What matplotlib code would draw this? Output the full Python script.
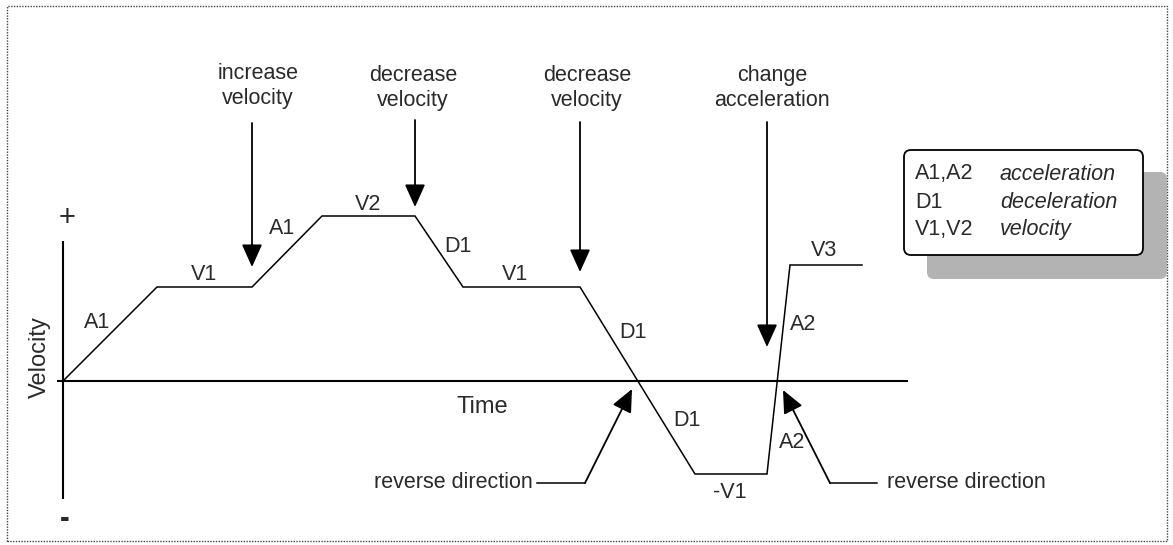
import matplotlib
matplotlib.use("Agg")
import matplotlib.pyplot as plt
from matplotlib.patches import FancyBboxPatch, Rectangle

plt.rcParams['font.family'] = ['Liberation Sans', 'DejaVu Sans']

# velocity profile (time, velocity), origin at the axes crossing
prof_t = [0, 94, 189, 259, 352, 400, 517, 632, 704, 727, 799]
prof_v = [0, 94, 94, 165, 165, 94, 94, -93, -93, 116, 116]

# segment labels
seg_text = ["A1", "V1", "A1", "V2", "D1", "V1", "D1", "D1", "-V1", "A2", "A2", "V3"]
seg_t = [34, 141, 219, 305, 395, 452, 570, 624, 667, 740, 729, 761]
seg_v = [58, 106, 152, 176, 134, 107, 49, -39, -111, 56, -62, 131]

# vertical call-out arrows: label, x, label centre, arrow start, arrow tip
call_text = ["increase\nvelocity", "decrease\nvelocity", "decrease\nvelocity", "change\nacceleration"]
call_t = [189, 352, 517, 704]
call_label_t = [195, 350, 524, 709]
call_label_v = [295, 293, 293, 293]
call_top = [258, 261, 259, 259]
call_tip = [114, 174, 109, 34]

# "reverse direction" call-outs: tip, corner, end of leader, text anchor
rev_tip = [(569, -8), (720, -9)]
rev_corner = [(522, -102), (767, -102)]
rev_end = [(474, -102), (814, -102)]
rev_text_t = [470, 824]
rev_ha = ["right", "left"]

legend_keys = ["A1,A2", "D1", "V1,V2"]
legend_vals = ["acceleration", "deceleration", "velocity"]
legend_v = [207, 178, 151]

txt = '#2a2a2a'
fs = 15.5

fig = plt.figure(figsize=(11.73, 5.45), dpi=100)
ax = fig.add_axes([0, 0, 1, 1])
ax.set_xlim(-63, 1110)
ax.set_ylim(-164, 381)
ax.axis('off')

# dotted frame
ax.add_patch(Rectangle((-56, -160), 1160, 535, fill=False, ec='#444444',
                       lw=1.0, ls=(0, (1, 1))))

# axes
ax.plot([-6, 845], [0, 0], color='black', lw=1.5, solid_capstyle='butt')
ax.plot([0, 0], [140, -118], color='black', lw=1.5, solid_capstyle='butt')
ax.text(4, 163, "+", fontsize=21, ha='center', va='center', color=txt)
ax.text(2, -138, "-", fontsize=21, ha='center', va='center', color=txt, fontweight='bold')
ax.text(-23, 24, "Velocity", fontsize=17, rotation=90, ha='center', va='center', color=txt)
ax.text(419, -26, "Time", fontsize=17, ha='center', va='center', color=txt)

# profile
ax.plot(prof_t, prof_v, color='black', lw=1.1, solid_joinstyle='miter')

for s, t, v in zip(seg_text, seg_t, seg_v):
    ax.text(t, v, s, fontsize=fs, ha='center', va='center', color=txt)

arrow_kw = dict(arrowstyle='-|>,head_length=1.0,head_width=0.45',
                color='black', lw=1.3, mutation_scale=14, shrinkA=0, shrinkB=0)

for s, t, lt, lv, top, tip in zip(call_text, call_t, call_label_t, call_label_v,
                                  call_top, call_tip):
    ax.text(lt, lv, s, fontsize=fs, ha='center', va='center', color=txt,
            linespacing=1.2, multialignment='center')
    ax.annotate('', xy=(t, tip), xytext=(t, top), arrowprops=arrow_kw)

for tip, corner, end, tt, ha in zip(rev_tip, rev_corner, rev_end, rev_text_t, rev_ha):
    ax.plot([end[0], corner[0]], [end[1], corner[1]], color='black', lw=1.1)
    ax.annotate('', xy=tip, xytext=corner, arrowprops=arrow_kw)
    ax.text(tt, end[1], "reverse direction", fontsize=fs, ha=ha, va='center', color=txt)

# legend box with shadow
ax.add_patch(FancyBboxPatch((864, 102), 240, 107, boxstyle='round,pad=0,rounding_size=7',
                            fc='#b3b3b3', ec='none', zorder=2))
ax.add_patch(FancyBboxPatch((841, 126), 239, 105, boxstyle='round,pad=0,rounding_size=7',
                            fc='white', ec='black', lw=1.3, zorder=3))
for k, val, v in zip(legend_keys, legend_vals, legend_v):
    ax.text(852, v, k, fontsize=fs, ha='left', va='center', color=txt, zorder=4)
    ax.text(937, v, val, fontsize=fs, ha='left', va='center', color=txt,
            style='italic', zorder=4)

fig.savefig("out.png", dpi=100)
